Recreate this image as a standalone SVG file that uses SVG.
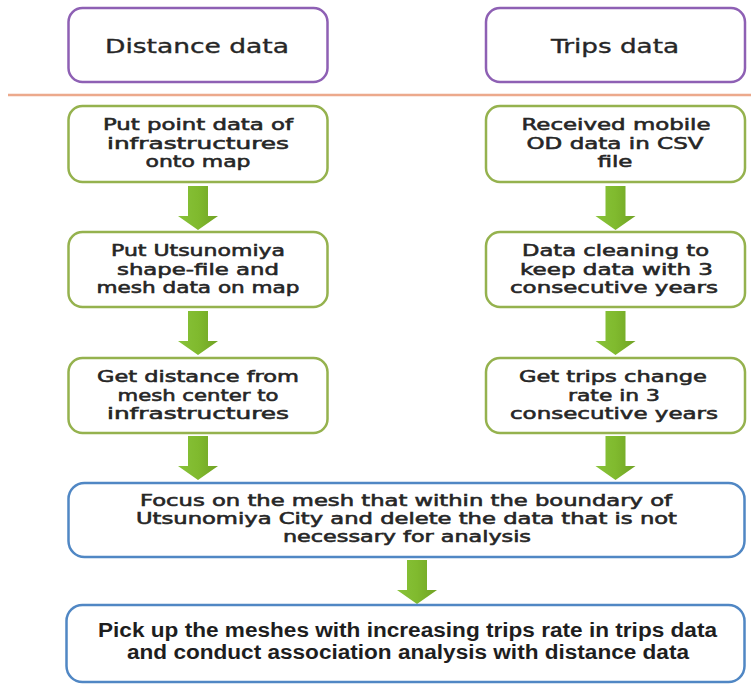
<svg xmlns="http://www.w3.org/2000/svg" xmlns:xlink="http://www.w3.org/1999/xlink" width="751" height="684" viewBox="0 0 751 684">
<style>
.box{fill:#ffffff;stroke-width:2.5}
.pur{stroke:#8e60b4}
.grn{stroke:#95b24e}
.blu{stroke:#5087c4}
.t{font-family:"DejaVu Sans","Liberation Sans",sans-serif;fill:#262626;text-anchor:middle;stroke:#262626}
.h{font-size:19px;stroke-width:0.35}
.s{font-size:15.5px;stroke-width:0.55}
.b{font-size:15px;stroke-width:0.55}
.f{font-family:"Liberation Sans Narrow","Liberation Sans",sans-serif;font-size:20px;font-weight:bold;fill:#1e1e1e;text-anchor:middle}
.arrow{fill:url(#ag)}
</style>
<defs>
<linearGradient id="ag" x1="0" y1="0" x2="1" y2="0">
<stop offset="0" stop-color="#88c23a"/>
<stop offset="0.5" stop-color="#80ba2e"/>
<stop offset="1" stop-color="#70a224"/>
</linearGradient>
<path id="arr" d="M-10,0 H10 V30 H20 L0,44 L-20,30 H-10 Z"/>
</defs>
<rect width="751" height="684" fill="#ffffff"/>
<line x1="8" y1="95" x2="751" y2="95" stroke="#eca98c" stroke-width="2.5"/>

<g id="connectors">
<use href="#arr" class="arrow" x="198" y="186"/>
<use href="#arr" class="arrow" x="198" y="311"/>
<use href="#arr" class="arrow" x="198" y="436"/>
<use href="#arr" class="arrow" x="615.5" y="186"/>
<use href="#arr" class="arrow" x="615.5" y="311"/>
<use href="#arr" class="arrow" x="615.5" y="436"/>
<use href="#arr" class="arrow" x="417" y="560"/>
</g>

<g id="distance-data">
<rect class="box pur" x="68.5" y="8" width="259" height="74" rx="14"/>
<text class="t h" x="197" y="53" textLength="184" lengthAdjust="spacingAndGlyphs">Distance data</text>
</g>
<g id="trips-data">
<rect class="box pur" x="486" y="8" width="259" height="74" rx="14"/>
<text class="t h" x="615" y="53" textLength="128" lengthAdjust="spacingAndGlyphs">Trips data</text>
</g>

<g id="put-point-data">
<rect class="box grn" x="68.5" y="106" width="259" height="76" rx="14"/>
<text class="t s" x="198" y="130" textLength="190" lengthAdjust="spacingAndGlyphs">Put point data of</text>
<text class="t s" x="198" y="149" textLength="182" lengthAdjust="spacingAndGlyphs">infrastructures</text>
<text class="t s" x="198" y="167" textLength="105" lengthAdjust="spacingAndGlyphs">onto map</text>
</g>
<g id="put-shape-file">
<rect class="box grn" x="68.5" y="232" width="259" height="75" rx="14"/>
<text class="t s" x="198" y="256" textLength="174" lengthAdjust="spacingAndGlyphs">Put Utsunomiya</text>
<text class="t s" x="198" y="274.5" textLength="162" lengthAdjust="spacingAndGlyphs">shape-file and</text>
<text class="t s" x="198" y="293" textLength="203" lengthAdjust="spacingAndGlyphs">mesh data on map</text>
</g>
<g id="get-distance">
<rect class="box grn" x="68.5" y="358" width="259" height="75" rx="14"/>
<text class="t s" x="198" y="382" textLength="202" lengthAdjust="spacingAndGlyphs">Get distance from</text>
<text class="t s" x="198" y="400.5" textLength="161" lengthAdjust="spacingAndGlyphs">mesh center to</text>
<text class="t s" x="198" y="419" textLength="182" lengthAdjust="spacingAndGlyphs">infrastructures</text>
</g>

<g id="received-od">
<rect class="box grn" x="486" y="106" width="259" height="76" rx="14"/>
<text class="t s" x="616" y="130" textLength="189" lengthAdjust="spacingAndGlyphs">Received mobile</text>
<text class="t s" x="615" y="149" textLength="177" lengthAdjust="spacingAndGlyphs">OD data in CSV</text>
<text class="t s" x="615" y="167" textLength="35" lengthAdjust="spacingAndGlyphs">file</text>
</g>
<g id="data-cleaning">
<rect class="box grn" x="486" y="232" width="259" height="75" rx="14"/>
<text class="t s" x="615.5" y="256" textLength="187" lengthAdjust="spacingAndGlyphs">Data cleaning to</text>
<text class="t s" x="616.5" y="274.5" textLength="193" lengthAdjust="spacingAndGlyphs">keep data with 3</text>
<text class="t s" x="614" y="293" textLength="208" lengthAdjust="spacingAndGlyphs">consecutive years</text>
</g>
<g id="trips-change">
<rect class="box grn" x="486" y="358" width="259" height="75" rx="14"/>
<text class="t s" x="613" y="382" textLength="188" lengthAdjust="spacingAndGlyphs">Get trips change</text>
<text class="t s" x="614" y="400.5" textLength="92" lengthAdjust="spacingAndGlyphs">rate in 3</text>
<text class="t s" x="614" y="419" textLength="208" lengthAdjust="spacingAndGlyphs">consecutive years</text>
</g>

<g id="focus-mesh">
<rect class="box blu" x="68.5" y="483" width="676" height="74" rx="16"/>
<text class="t b" x="406" y="506" textLength="532" lengthAdjust="spacingAndGlyphs">Focus on the mesh that within the boundary of</text>
<text class="t b" x="406.5" y="524" textLength="541" lengthAdjust="spacingAndGlyphs">Utsunomiya City and delete the data that is not</text>
<text class="t b" x="407" y="542" textLength="248" lengthAdjust="spacingAndGlyphs">necessary for analysis</text>
</g>
<g id="pick-up-meshes">
<rect class="box blu" x="66.5" y="605" width="678" height="77" rx="16"/>
<text class="f" x="407.5" y="637" textLength="619" lengthAdjust="spacingAndGlyphs">Pick up the meshes with increasing trips rate in trips data</text>
<text class="f" x="408" y="659" textLength="562" lengthAdjust="spacingAndGlyphs">and conduct association analysis with distance data</text>
</g>
</svg>
